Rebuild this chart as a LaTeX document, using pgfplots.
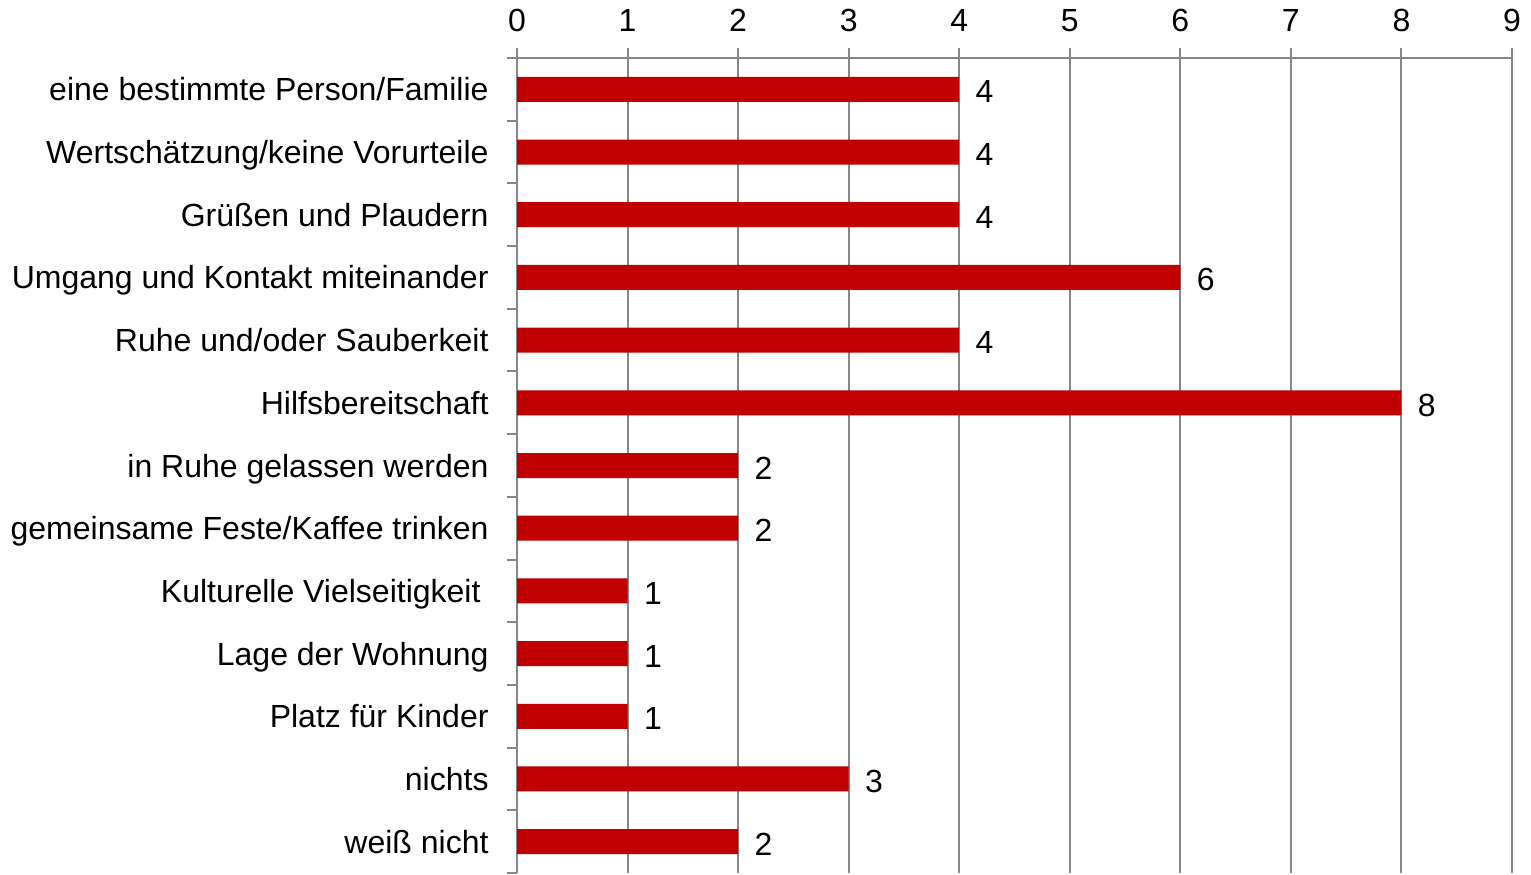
\documentclass[border=0pt]{standalone}
\usepackage{fontspec}
\setmainfont{Liberation Sans}
\usepackage{pgfplots}
\pgfplotsset{compat=1.18}
\definecolor{barred}{HTML}{C00000}
\definecolor{gridgray}{HTML}{878787}
\begin{document}
\fontsize{16}{19}\selectfont
\begin{tikzpicture}
\begin{axis}[
  scale only axis,
  width=497.5pt, height=407.5pt,
  xbar, bar width=12.5pt,
  xmin=0, xmax=9,
  ymin=-0.5, ymax=12.5,
  y dir=reverse,
  axis x line*=top,
  axis y line*=left,
  axis line style={gridgray, line width=1pt},
  xtick={0,...,9},
  major tick length=5pt,
  tick align=outside,
  tick style={gridgray, line width=1pt},
  xmajorgrids,
  grid style={gridgray, line width=1pt},
  ytick={-0.5,0.5,...,12.5},
  yticklabels={},
  extra y ticks={0,...,12},
  extra y tick style={major tick length=0pt, grid=none},
  extra y tick labels={eine bestimmte Person/Familie,Wertschätzung/keine Vorurteile,Grüßen und Plaudern,Umgang und Kontakt miteinander,Ruhe und/oder Sauberkeit,Hilfsbereitschaft,in Ruhe gelassen werden,gemeinsame Feste/Kaffee trinken,Kulturelle Vielseitigkeit\rule{4pt}{0pt},Lage der Wohnung,Platz für Kinder,nichts,weiß nicht},
  y tick label style={font=\fontsize{16}{19}\selectfont, xshift=-8.7pt, text height=11.5pt, text depth=0pt},
  x tick label style={font=\fontsize{16}{19}\selectfont, yshift=2.5pt},
  /pgf/number format/assume math mode=true,
  nodes near coords,
  nodes near coords style={font=\fontsize{16}{19}\selectfont, black, anchor=west, xshift=2.7pt, text height=11.5pt, text depth=0pt, yshift=-1pt},
]
\addplot[fill=barred, draw=none] coordinates {
(4,0) (4,1) (4,2) (6,3) (4,4) (8,5) (2,6) (2,7) (1,8) (1,9) (1,10) (3,11) (2,12)};
\end{axis}
\pgfresetboundingbox
\path ([xshift=-258.5pt, yshift=-0.5pt]current axis.south west) rectangle ([xshift=9.5pt, yshift=29pt]current axis.north east);
\end{tikzpicture}
\end{document}
